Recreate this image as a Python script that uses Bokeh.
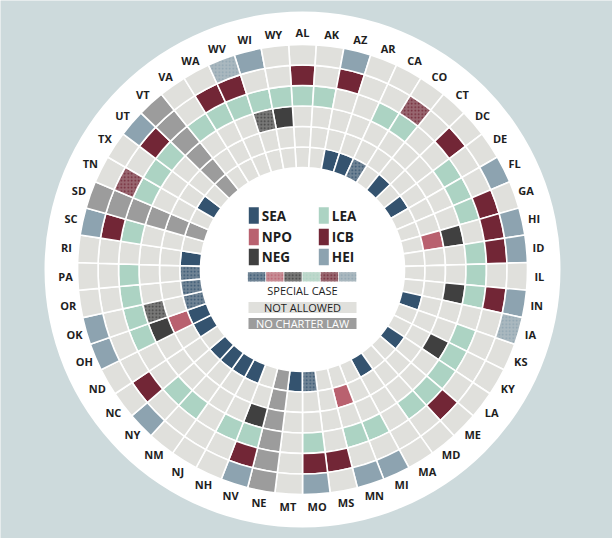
import numpy as np
from bokeh.plotting import figure
from bokeh.embed import file_html
from bokeh.resources import INLINE
from bokeh.core.properties import value

# ---------------- data ----------------
states = ["AL", "AK", "AZ", "AR", "CA", "CO", "CT", "DC", "DE", "FL", "GA", "HI", "ID",
          "IL", "IN", "IA", "KS", "KY", "LA", "ME", "MD", "MA", "MI", "MN", "MS", "MO",
          "MT", "NE", "NV", "NH", "NJ", "NM", "NY", "NC", "ND", "OH", "OK", "OR", "PA",
          "RI", "SC", "SD", "TN", "TX", "UT", "VT", "VA", "WA", "WV", "WI", "WY"]

# 0 = not allowed, 1 = allowed, 2 = special case (order follows `states`)
SEA = [0, 0, 1, 1, 2, 0, 1, 0, 1, 0, 0, 0, 0, 0, 0, 1, 0, 0, 1, 0, 0, 1, 0, 0, 0, 2,
       1, 0, 0, 1, 1, 1, 1, 0, 1, 1, 2, 2, 2, 1, 0, 0, 0, 1, 0, 0, 0, 0, 0, 0, 0]
NPO = [0, 0, 0, 0, 0, 0, 0, 0, 0, 0, 0, 1, 0, 0, 0, 0, 0, 0, 0, 0, 0, 0, 0, 1, 0, 0,
       0, 0, 0, 0, 0, 0, 0, 0, 0, 1, 0, 0, 0, 0, 0, 0, 0, 0, 0, 0, 0, 0, 0, 0, 0]
NEG = [0, 0, 0, 0, 0, 0, 0, 0, 0, 0, 0, 1, 0, 0, 1, 0, 0, 1, 0, 0, 0, 0, 0, 0, 0, 0,
       0, 0, 1, 0, 0, 0, 0, 0, 0, 1, 2, 0, 0, 0, 0, 0, 0, 0, 0, 0, 0, 0, 0, 2, 1]
LEA = [1, 1, 0, 0, 1, 1, 0, 0, 1, 1, 1, 0, 1, 1, 1, 0, 1, 1, 1, 1, 1, 0, 1, 1, 0, 1,
       0, 0, 1, 1, 0, 1, 1, 0, 0, 1, 1, 1, 1, 0, 1, 0, 1, 1, 1, 0, 1, 1, 1, 1, 1]
ICB = [1, 0, 1, 0, 0, 2, 0, 1, 0, 0, 1, 1, 1, 0, 1, 0, 0, 0, 0, 1, 0, 0, 0, 0, 1, 1,
       0, 0, 1, 0, 0, 0, 0, 1, 0, 0, 0, 0, 0, 0, 1, 0, 2, 0, 1, 0, 0, 1, 1, 0, 0]
HEI = [0, 0, 1, 0, 0, 0, 0, 0, 0, 1, 0, 1, 1, 0, 1, 2, 0, 0, 0, 0, 0, 0, 1, 1, 0, 1,
       0, 0, 1, 0, 0, 0, 1, 0, 0, 1, 1, 0, 0, 0, 1, 0, 0, 0, 1, 0, 0, 0, 2, 1, 0]
no_charter = ["NE", "SD", "VT"]

categories = ["SEA", "NPO", "NEG", "LEA", "ICB", "HEI"]
series = {"SEA": SEA, "NPO": NPO, "NEG": NEG, "LEA": LEA, "ICB": ICB, "HEI": HEI}

# ---------------- style ----------------
BG = "#cddadc"
COL = {"SEA": "#34536f", "NPO": "#b9616f", "NEG": "#404040",
       "LEA": "#acd3c3", "ICB": "#722636", "HEI": "#8da3b0"}
NOT_ALLOWED = "#e0e0dc"
NO_LAW = "#9c9c9c"
TXT = "#1e1e1e"
FONT = value("Open Sans")


def blend(c1, c2, t):
    a = [int(c1[i:i + 2], 16) for i in (1, 3, 5)]
    b = [int(c2[i:i + 2], 16) for i in (1, 3, 5)]
    return "#%02x%02x%02x" % tuple(int(round(a[k] + (b[k] - a[k]) * t)) for k in range(3))


n = len(states)
step = 2 * np.pi / n
R_IN, RING = 102.0, 20.5
LABEL_R, DISC_R = 237.0, 258.0

p = figure(width=612, height=538, x_range=(-302, 310), y_range=(-269, 269),
           output_backend="svg", toolbar_location=None, min_border=0,
           x_axis_type=None, y_axis_type=None)
p.grid.visible = False
p.outline_line_color = None
p.background_fill_color = BG
p.border_fill_color = BG

p.circle(x=[0], y=[0], radius=DISC_R, fill_color="white", line_color=None)

# cells
plain = dict(x=[], y=[], r0=[], r1=[], a0=[], a1=[], fill=[])
spec = dict(x=[], y=[], r0=[], r1=[], a0=[], a1=[], fill=[], hatch=[])
for ci, cat in enumerate(categories):
    vals = series[cat]
    r0 = R_IN + ci * RING
    r1 = r0 + RING
    for si, st in enumerate(states):
        th = si * step
        a0 = np.pi / 2 - th - step / 2
        a1 = np.pi / 2 - th + step / 2
        v = vals[si]
        if st in no_charter:
            d, fill = plain, NO_LAW
        elif v == 2:
            d, fill = spec, blend(COL[cat], NOT_ALLOWED, 0.35)
            spec["hatch"].append(COL[cat])
        elif v == 1:
            d, fill = plain, COL[cat]
        else:
            d, fill = plain, NOT_ALLOWED
        d["x"].append(0); d["y"].append(0)
        d["r0"].append(r0); d["r1"].append(r1)
        d["a0"].append(a0); d["a1"].append(a1)
        d["fill"].append(fill)

p.annular_wedge(x="x", y="y", inner_radius="r0", outer_radius="r1",
                start_angle="a0", end_angle="a1", fill_color="fill",
                line_color="white", line_width=1.6, source=plain)
p.annular_wedge(x="x", y="y", inner_radius="r0", outer_radius="r1",
                start_angle="a0", end_angle="a1", fill_color="fill",
                hatch_pattern="dot", hatch_color="hatch", hatch_scale=3.5,
                hatch_weight=1.6, line_color="white", line_width=1.6, source=spec)

# state labels
ang = np.arange(n) * step
p.text(x=list(LABEL_R * np.sin(ang)), y=list(LABEL_R * np.cos(ang)), text=states,
       text_align="center", text_baseline="middle", text_font=FONT,
       text_font_style="bold", text_font_size="11px", text_color=TXT)

# ---------------- legend ----------------
leg_cols = [-48.7, 21.3]
leg_rows = [54.0, 32.5, 12.5]
for k, cat in enumerate(categories):
    col = 0 if k < 3 else 1
    row = k % 3
    cx, cy = leg_cols[col], leg_rows[row]
    p.rect(x=[cx], y=[cy], width=10, height=16.5, fill_color=COL[cat], line_color=None)
    p.text(x=[cx + 8], y=[cy], text=[cat], text_align="left", text_baseline="middle",
           text_font=FONT, text_font_style="bold", text_font_size="13.5px", text_color=TXT)

seg_w = 18.2
x_start = -55.0
for k, cat in enumerate(categories):
    p.rect(x=[x_start + seg_w * (k + 0.5)], y=[-7.3], width=seg_w - 0.8, height=9.3,
           fill_color=blend(COL[cat], NOT_ALLOWED, 0.35), hatch_pattern="dot",
           hatch_color=COL[cat], hatch_scale=3.5, hatch_weight=1.6, line_color=None)
p.text(x=[0], y=[-21], text=["SPECIAL CASE"], text_align="center", text_baseline="middle",
       text_font=FONT, text_font_size="11px", text_color=TXT)

p.rect(x=[0], y=[-38], width=108, height=11, fill_color=NOT_ALLOWED, line_color=None)
p.text(x=[0], y=[-38], text=["NOT ALLOWED"], text_align="center", text_baseline="middle",
       text_font=FONT, text_font_size="11px", text_color=TXT)
p.rect(x=[0], y=[-54], width=108, height=11, fill_color=NO_LAW, line_color=None)
p.text(x=[0], y=[-54], text=["NO CHARTER LAW"], text_align="center", text_baseline="middle",
       text_font=FONT, text_font_size="11px", text_color="white")

open("out.html", "w").write(file_html(p, INLINE))
